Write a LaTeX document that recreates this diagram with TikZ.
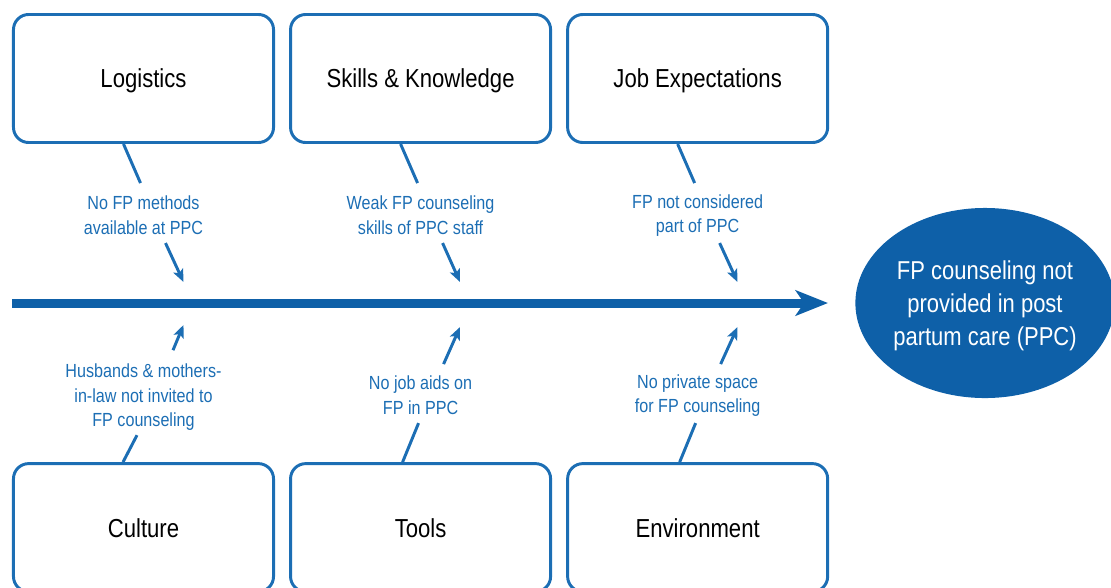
\documentclass[tikz,border=0pt]{standalone}
\usepackage{fontspec}
\setmainfont{Liberation Sans}[FakeStretch=0.85]
\usetikzlibrary{positioning,calc,shapes.geometric,arrows.meta}
\definecolor{fishblue}{RGB}{14,96,168}
\definecolor{edgeblue}{RGB}{28,110,180}
\tikzset{cat node/.style={rectangle,rounded corners=0.38cm,draw=edgeblue,line width=2.1pt,fill=white,minimum width=6.5cm,minimum height=3.2cm,text depth=0pt,font=\fontsize{18.5}{22}\selectfont}}
\tikzset{cause node/.style={text=edgeblue,align=center,inner sep=0pt,font=\fontsize{13.5}{17.7}\selectfont}}
\tikzset{effect node/.style={ellipse,fill=fishblue,text=white,align=center,minimum width=6.35cm,minimum height=4.75cm,inner sep=0pt,text depth=0pt,font=\fontsize{18.4}{23.4}\selectfont}}
\tikzset{bone/.style={draw=edgeblue,line width=2.1pt}}
\tikzset{twig/.style={bone,-{Stealth[length=9pt,width=7.5pt,inset=2pt]}}}

\begin{document}
\begin{tikzpicture}[x=0.025cm,y=-0.025cm,on grid]
      \useasboundingbox (0,0) rectangle (1111,587);
      % categories
      \node[cat node] (log) at (143.5,78.5) {Logistics};
      \node[cat node] (skl) [right=6.925cm of log] {Skills \& Knowledge};
      \node[cat node] (job) [right=6.925cm of skl] {Job Expectations};
      \node[cat node] (cul) [below=11.225cm of log] {Culture};
      \node[cat node] (too) [below=11.225cm of skl] {Tools};
      \node[cat node] (env) [below=11.225cm of job] {Environment};
      % causes
      \node[cause node] (logc) [below=3.425cm of log] {No FP methods\\available at PPC};
      \node[cause node] (sklc) [below=3.425cm of skl] {Weak FP counseling\\skills of PPC staff};
      \node[cause node] (jobc) [below=3.425cm of job] {FP not considered\\part of PPC};
      \node[cause node] (culc) [above=3.26cm of cul] {Husbands \& mothers-\\in-law not invited to\\FP counseling};
      \node[cause node] (tooc) [above=3.3cm of too] {No job aids on\\FP in PPC};
      \node[cause node] (envc) [above=3.3cm of env] {No private space\\for FP counseling};
      % spine and effect
      \coordinate (tail) at (12,303);
      \coordinate (head) at (828,303);
      \coordinate (k1) at (183.5,303);
      \coordinate (k2) at (460,303);
      \coordinate (k3) at (737.5,303);
      \draw[fishblue,line width=6.4pt,-{Stealth[length=23pt,width=18pt,inset=6pt]}] (tail) -- (head);
      \node[effect node] (eff) at (985,303) {FP counseling not\\provided in post\\partum care (PPC)};
      % upper bones
      \draw[bone] ($(log.south)+(-20,0)$) -- ($(logc)+(-3,-32.5)$);
      \draw[bone] ($(skl.south)+(-20,0)$) -- ($(sklc)+(-3,-32.5)$);
      \draw[bone] ($(job.south)+(-20,0)$) -- ($(jobc)+(-3,-32.5)$);
      \draw[twig] ($(logc)+(22,27.5)$) -- ($(k1)+(0,-21)$);
      \draw[twig] ($(sklc)+(22,27.5)$) -- ($(k2)+(0,-21)$);
      \draw[twig] ($(jobc)+(22,27.5)$) -- ($(k3)+(0,-21)$);
      % lower bones
      \draw[twig] ($(culc)+(29.5,-47)$) -- ($(k1)+(0,22)$);
      \draw[twig] ($(tooc)+(23,-31.5)$) -- ($(k2)+(0,24)$);
      \draw[twig] ($(envc)+(23,-31.5)$) -- ($(k3)+(0,24)$);
      \draw[bone] ($(culc)+(-6.5,38)$) -- ($(cul.north)+(-20.5,0)$);
      \draw[bone] ($(tooc)+(-2,27.5)$) -- ($(too.north)+(-18,0)$);
      \draw[bone] ($(envc)+(-2,27.5)$) -- ($(env.north)+(-18,0)$);
    \end{tikzpicture}
\end{document}
